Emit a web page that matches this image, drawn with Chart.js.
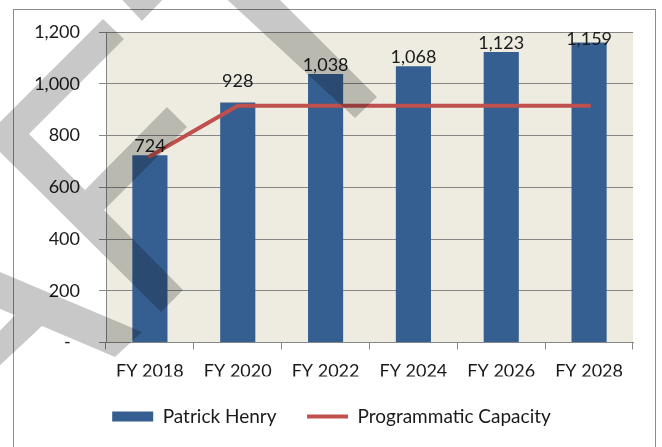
<!DOCTYPE html>
<html><head><meta charset="utf-8">
<script src="https://cdn.jsdelivr.net/npm/chart.js@4"></script>
<style>html,body{margin:0;padding:0;background:#fff}#wrap{width:662px;height:447px;position:relative}</style>
</head><body><div id="wrap"><canvas id="c" width="662" height="447"></canvas></div>
<script>
// ---- data ----
const categories = ['FY 2018', 'FY 2020', 'FY 2022', 'FY 2024', 'FY 2026', 'FY 2028'];
const enrollment = [724, 928, 1038, 1068, 1123, 1159];
const capacity = [720, 915, 915, 915, 915, 915];
const yTickValues = [0, 200, 400, 600, 800, 1000, 1200];
const seriesNames = ['Patrick Henry', 'Programmatic Capacity'];

// ---- styling helpers (not data) ----
const FONT = 'Lato, "Open Sans", sans-serif';
const TEXT = '#1a1a1a';
const labelNudge = [0, -12, 0, 0, 0, 0];
// decorative watermark bands overlaid on the picture (pixel polygons)
const watermark = [
  [[115,-8],[142,21],[170,-8]],
  [[219,-8],[272,-8],[377,97],[355,118]],
  [[103,19],[124,39],[29,134],[85,190],[167,107],[187,127],[104,210],[183,290],[161,312],[-15,137]],
  [[-5,270],[142,332],[115,357],[42,326],[-5,370],[-5,336],[15,315],[-5,307]]
];

const bgPlugin = {
  id: 'bg',
  beforeDraw(chart) {
    const {ctx, chartArea: a} = chart;
    ctx.save();
    ctx.fillStyle = '#ffffff';
    ctx.fillRect(0, 0, chart.width, chart.height);
    ctx.strokeStyle = '#8c8c8c';
    ctx.lineWidth = 1;
    ctx.strokeRect(13.5, 9.5, 642, 470);
    ctx.fillStyle = '#EEECE1';
    ctx.fillRect(a.left, a.top, a.right - a.left, a.bottom - a.top);
    ctx.restore();
  }
};

const valueLabels = {
  id: 'valueLabels',
  afterDatasetsDraw(chart) {
    const {ctx, chartArea: a} = chart;
    const meta = chart.getDatasetMeta(0);
    ctx.save();
    ctx.font = '18px ' + FONT;
    ctx.fillStyle = TEXT;
    ctx.textAlign = 'center';
    ctx.textBaseline = 'alphabetic';
    meta.data.forEach((el, i) => {
      let y = el.y - 3 + labelNudge[i];
      y = Math.max(y, a.top + 13);
      ctx.fillText(enrollment[i].toLocaleString('en-US'), el.x, y);
    });
    ctx.restore();
  }
};

const watermarkPlugin = {
  id: 'wm',
  afterDraw(chart) {
    const ctx = chart.ctx;
    ctx.save();
    ctx.fillStyle = 'rgba(0,0,0,0.215)';
    watermark.forEach(poly => {
      ctx.beginPath();
      poly.forEach((p, i) => i ? ctx.lineTo(p[0], p[1]) : ctx.moveTo(p[0], p[1]));
      ctx.closePath();
      ctx.fill();
    });
    ctx.restore();
  }
};

new Chart(document.getElementById('c'), {
  data: {
    labels: categories,
    datasets: [
      {
        type: 'bar',
        label: seriesNames[0],
        data: enrollment,
        backgroundColor: '#365F91',
        borderWidth: 0,
        barPercentage: 0.4,
        categoryPercentage: 1,
        pointStyle: 'rect',
        order: 2
      },
      {
        type: 'line',
        label: seriesNames[1],
        data: capacity,
        borderColor: '#C0504D',
        backgroundColor: '#C0504D',
        borderWidth: 4,
        borderCapStyle: 'round',
        borderJoinStyle: 'round',
        pointRadius: 0,
        pointHoverRadius: 0,
        pointStyle: 'line',
        pointBorderColor: '#C0504D',
        pointBorderWidth: 4,
        tension: 0,
        order: 1
      }
    ]
  },
  options: {
    responsive: false,
    animation: false,
    devicePixelRatio: 1,
    layout: {padding: {left: 30, right: 29, top: 32, bottom: 11}},
    scales: {
      x: {
        grid: {offset: true, drawOnChartArea: false, tickLength: 7, color: '#868686'},
        border: {color: '#868686', width: 1},
        ticks: {font: {family: FONT, size: 18}, color: TEXT, padding: 11, maxRotation: 0},
        afterFit(s) { s.height = 34; }
      },
      y: {
        min: 0, max: 1200,
        afterBuildTicks(s) { s.ticks = yTickValues.map(v => ({value: v})); },
        grid: {color: '#868686', tickLength: 7},
        border: {color: '#868686', width: 1},
        ticks: {
          font: {family: FONT, size: 18}, color: TEXT, padding: 19,
          callback: v => v === 0 ? '-\u00a0\u00a0' : Number(v).toLocaleString('en-US')
        },
        afterFit(s) { s.width = 76; }
      }
    },
    plugins: {
      legend: {
        position: 'bottom',
        labels: {
          usePointStyle: true,
          pointStyleWidth: 41,
          boxHeight: 10,
          padding: 30.5,
          color: TEXT,
          font: {family: FONT, size: 19},
          sort: (a, b) => a.datasetIndex - b.datasetIndex
        }
      },
      tooltip: {enabled: false}
    }
  },
  plugins: [bgPlugin, valueLabels, watermarkPlugin]
});
</script>
</body></html>
